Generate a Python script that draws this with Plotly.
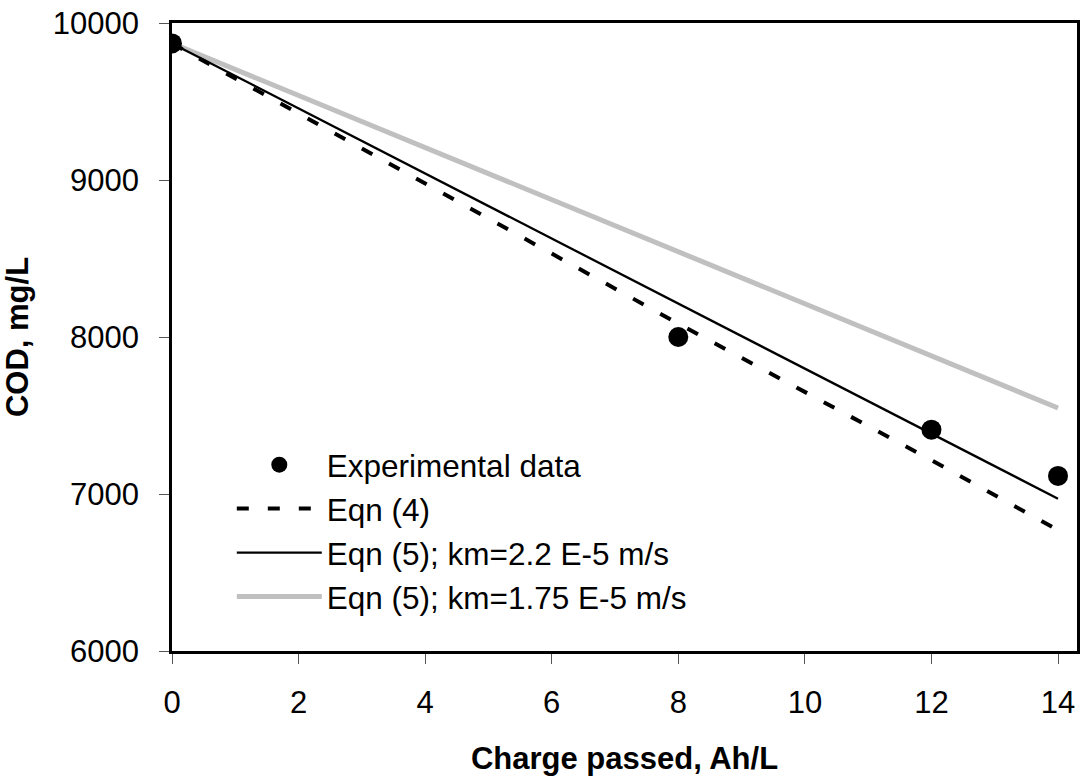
import plotly.graph_objects as go

# Data
charge = [0, 8, 12, 14]
cod_exp = [9870, 8000, 7410, 7115]
cod_eqn4 = [9870, 8085, 7215, 6770]
cod_eqn5_km22 = [9870, 8214, 7384, 6970]
cod_eqn5_km175 = [9870, 8542, 7877, 7548]

names = ["Experimental data", "Eqn (4)", "Eqn (5); km=2.2 E-5 m/s", "Eqn (5); km=1.75 E-5 m/s"]
x_ticks = [0, 2, 4, 6, 8, 10, 12, 14]
y_ticks = [6000, 7000, 8000, 9000, 10000]
y_ticktext = ["6000", "7000", "8000", "9000", "10000"]

FONT = "Liberation Sans, Arial, sans-serif"

fig = go.Figure()
fig.add_trace(go.Scatter(x=charge, y=cod_eqn5_km175, mode="lines", name=names[3],
                         line=dict(color="#c0c0c0", width=5)))
fig.add_trace(go.Scatter(x=charge, y=cod_eqn5_km22, mode="lines", name=names[2],
                         line=dict(color="black", width=2.3)))
fig.add_trace(go.Scatter(x=charge, y=cod_eqn4, mode="lines", name=names[1],
                         line=dict(color="black", width=4, dash="12px,19px")))
fig.add_trace(go.Scatter(x=charge, y=cod_exp, mode="markers", name=names[0],
                         marker=dict(color="black", size=20, symbol="circle")))

fig.update_layout(
    width=1084, height=776,
    margin=dict(l=172, r=4, t=23, b=120),
    paper_bgcolor="white", plot_bgcolor="white",
    font=dict(family=FONT, size=31, color="black"),
    showlegend=True,
    legend=dict(
        x=(232 - 172) / 908, y=(656 - 441) / 633,
        xanchor="left", yanchor="top",
        traceorder="reversed",
        bgcolor="rgba(0,0,0,0)",
        font=dict(family=FONT, size=31.5, color="black"),
        itemwidth=85,
    ),
    xaxis=dict(
        range=[0, 14.3], tickmode="array", tickvals=x_ticks,
        showgrid=False, zeroline=False,
        showline=True, linecolor="black", linewidth=2.5, mirror=True,
        ticks="outside", ticklen=10, tickwidth=1, tickcolor="#555",
        tickfont=dict(family=FONT, size=31),
        ticklabelstandoff=12,
        title=dict(text="<b>Charge passed, Ah/L</b>", font=dict(family=FONT, size=31), standoff=30),
    ),
    yaxis=dict(
        range=[6000, 10000], tickmode="array", tickvals=y_ticks, ticktext=y_ticktext,
        showgrid=False, zeroline=False,
        showline=True, linecolor="black", linewidth=2.5, mirror=True,
        ticks="outside", ticklen=10, tickwidth=1, tickcolor="#555",
        tickfont=dict(family=FONT, size=31),
        ticklabelstandoff=14,
        title=dict(text="<b>COD, mg/L</b>", font=dict(family=FONT, size=31), standoff=24),
    ),
)

fig.write_html("out.html")
